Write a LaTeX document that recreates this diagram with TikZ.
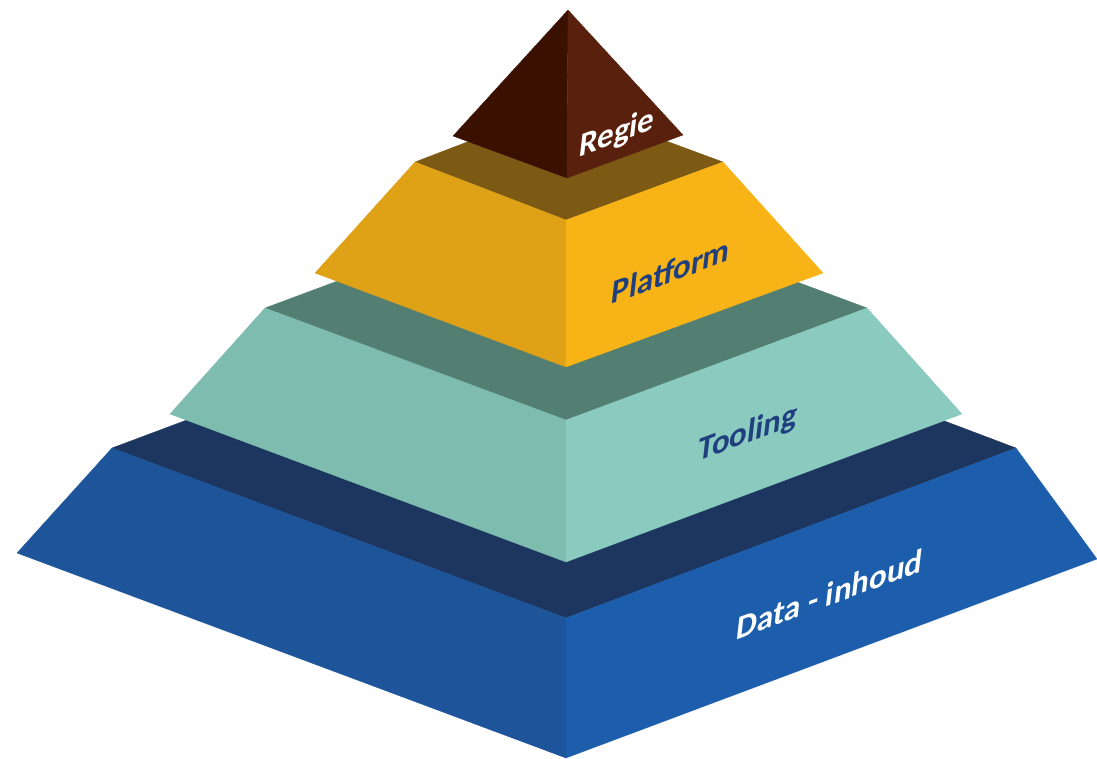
\documentclass[tikz,border=0pt]{standalone}
\usepackage{fontspec}
\setmainfont{Carlito}
\usetikzlibrary{positioning}

\definecolor{regleft}{HTML}{3A1100}
\definecolor{regright}{HTML}{5A200E}
\definecolor{plattop}{HTML}{7D5A14}
\definecolor{platleft}{HTML}{DFA116}
\definecolor{platright}{HTML}{F8B316}
\definecolor{tooltop}{HTML}{537E72}
\definecolor{toolleft}{HTML}{7EBCB0}
\definecolor{toolright}{HTML}{8BCBBF}
\definecolor{datatop}{HTML}{1D365F}
\definecolor{dataleft}{HTML}{1E5499}
\definecolor{dataright}{HTML}{1C5EAC}
\definecolor{navy}{HTML}{1F3F7F}

\begin{document}
\begin{tikzpicture}[x=1pt,y=-1pt,
        face/.style={fill=#1,draw=#1,line width=0.3pt,line join=round},
        lbl/.style={font=\bfseries\fontsize{33}{35}\selectfont,inner sep=0pt,yslant=0.37,xslant=0.12}]
    \useasboundingbox (0,0) rectangle (1097,758);
    % slabs, bottom to top
    \foreach \lx/\ly/\fy/\rx/\bl/\bly/\bfy/\br/\bry/\ctop/\cleft/\cright in {
            112/448/618/1016/17/553/758/1097/559/datatop/dataleft/dataright,
            265/308/420/867/170/414/562/962/414/tooltop/toolleft/toolright,
            415/162/220/723/315/273/367/823/273/plattop/platleft/platright}{
        \fill[face=\ctop] (\lx,\ly) -- (566,{2*\ly-\fy}) -- (\rx,\ly) -- (566,\fy) -- cycle;
        \fill[face=\cleft] (\lx,\ly) -- (566,\fy) -- (566,\bfy) -- (\bl,\bly) -- cycle;
        \fill[face=\cright] (566,\fy) -- (\rx,\ly) -- (\br,\bry) -- (566,\bfy) -- cycle;
    }
    % top
    \fill[face=regleft] (568,10) -- (453,136) -- (567,178) -- cycle;
    \fill[face=regright] (568,10) -- (567,178) -- (683,135) -- cycle;
    % labels
    \node[lbl,text=white] (regie) at (617,134) {Regie};
    \node[lbl,text=navy] (platform) at (671,271) {Platform};
    \node[lbl,text=navy] (tooling) at (748,434) {Tooling};
    \node[lbl,text=white] (data) at (830,594) {Data - inhoud};
\end{tikzpicture}
\end{document}
